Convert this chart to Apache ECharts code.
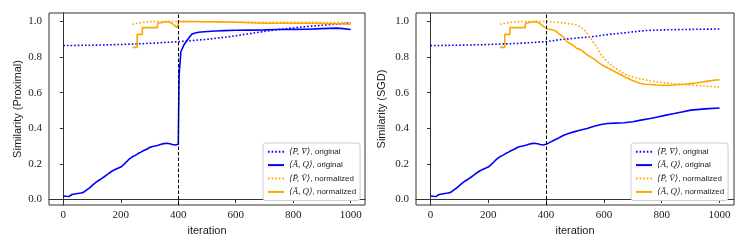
<!DOCTYPE html>
<html>
<head>
<meta charset="utf-8">
<script src="https://cdn.jsdelivr.net/npm/echarts@6/dist/echarts.min.js"></script>
<style>
html,body{margin:0;padding:0;background:#fff;}
#chart{width:747px;height:249px;}
</style>
</head>
<body>
<div id="chart"></div>
<script>
// ---------- data ----------
const xTicks = [0, 200, 400, 600, 800, 1000];
const yTicks = [0, 0.2, 0.4, 0.6, 0.8, 1.0];
const panelTitles = ['Similarity (Proximal)', 'Similarity (SGD)'];
const legendNames = ['pv_orig', 'aq_orig', 'pv_norm', 'aq_norm'];
const switchIter = 400;

// <A,Q> original, shared part (0..400)
const aqOrigPreIt  = [0,10,20,25,30,40,50,60,70,80,90,100,110,120,130,140,150,160,170,180,190,200,210,220,230,240,250,260,270,280,290,300,310,320,330,340,350,360,370,380,390,400];
const aqOrigPreVal = [0.020,0.018,0.017,0.020,0.028,0.031,0.034,0.036,0.040,0.052,0.064,0.078,0.092,0.104,0.114,0.125,0.137,0.149,0.160,0.168,0.175,0.182,0.196,0.212,0.228,0.240,0.248,0.258,0.266,0.275,0.282,0.292,0.298,0.301,0.305,0.310,0.314,0.316,0.313,0.309,0.306,0.310];
// Proximal after 400
const aqOrigProxIt  = [401,403,409,420,431,440,448,460,471,490,529,560,600,650,700,750,800,850,900,950,975,1000];
const aqOrigProxVal = [0.450,0.700,0.830,0.870,0.895,0.915,0.930,0.936,0.940,0.943,0.947,0.949,0.951,0.952,0.953,0.955,0.956,0.957,0.960,0.963,0.960,0.955];
// SGD after 400
const aqOrigSgdIt  = [410,427,440,461,480,496,520,542,566,590,612,640,670,700,728,760,786,815,843,870,901,950,1000];
const aqOrigSgdVal = [0.318,0.333,0.343,0.361,0.372,0.380,0.390,0.399,0.412,0.421,0.427,0.429,0.431,0.437,0.446,0.455,0.464,0.474,0.483,0.492,0.502,0.509,0.514];

// <P,V> original
const pvOrigProxIt  = [0,100,200,300,400,500,575,640,690,754,820,900,1000];
const pvOrigProxVal = [0.865,0.867,0.871,0.877,0.887,0.900,0.914,0.930,0.942,0.956,0.968,0.979,0.992];
const pvOrigSgdIt   = [0,100,200,300,400,446,500,560,620,680,740,800,900,1000];
const pvOrigSgdVal  = [0.865,0.867,0.871,0.877,0.887,0.898,0.906,0.915,0.928,0.938,0.949,0.953,0.956,0.958];

// <P,V> normalized
const pvNormPreIt  = [240,250,260,270,280,290,300,320,400];
const pvNormPreVal = [0.985,0.988,0.991,0.994,0.996,0.998,0.999,1.000,1.000];
const pvNormProxIt  = [450,500,600,700,800,900,1000];
const pvNormProxVal = [0.999,0.998,0.997,0.996,0.996,0.995,0.995];
const pvNormSgdIt  = [427,446,473,496,505,519,530,542,555,566,578,589,600,612,626,640,655,672,700,728,760,790,840,900,950,1000];
const pvNormSgdVal = [0.996,0.995,0.989,0.984,0.980,0.970,0.955,0.933,0.905,0.878,0.850,0.815,0.795,0.775,0.755,0.738,0.722,0.704,0.688,0.677,0.667,0.660,0.650,0.643,0.637,0.632];

// <A,Q> normalized
const aqNormPreIt  = [240,257,257,275,275,328,328,332,332,365,372,380,388,396,400];
const aqNormPreVal = [0.855,0.855,0.928,0.928,0.966,0.966,0.990,0.990,1.000,1.000,0.995,0.987,0.977,0.966,0.965];
const aqNormProxIt  = [401,450,500,550,600,650,700,750,800,850,900,950,1000];
const aqNormProxVal = [1.000,1.000,0.999,0.998,0.996,0.993,0.990,0.990,0.990,0.990,0.989,0.988,0.985];
const aqNormSgdIt  = [405,415,425,435,445,455,465,470,475,485,495,505,515,525,540,555,570,585,600,615,630,645,660,677,695,710,725,740,760,780,800,820,840,860,880,900,920,940,960,980,1000];
const aqNormSgdVal = [0.958,0.955,0.952,0.945,0.930,0.920,0.905,0.890,0.895,0.875,0.865,0.850,0.845,0.835,0.815,0.800,0.785,0.765,0.750,0.738,0.725,0.712,0.700,0.685,0.672,0.662,0.653,0.648,0.646,0.643,0.642,0.641,0.643,0.646,0.648,0.651,0.655,0.660,0.665,0.670,0.673];

// ---------- build ----------
function zip(it, v) { return it.map((x, i) => [x, v[i]]); }
const panels = [
  {
    pvOrig: zip(pvOrigProxIt, pvOrigProxVal),
    aqOrig: zip(aqOrigPreIt, aqOrigPreVal).concat(zip(aqOrigProxIt, aqOrigProxVal)),
    pvNorm: zip(pvNormPreIt, pvNormPreVal).concat(zip(pvNormProxIt, pvNormProxVal)),
    aqNorm: zip(aqNormPreIt, aqNormPreVal).concat(zip(aqNormProxIt, aqNormProxVal))
  },
  {
    pvOrig: zip(pvOrigSgdIt, pvOrigSgdVal),
    aqOrig: zip(aqOrigPreIt, aqOrigPreVal).concat(zip(aqOrigSgdIt, aqOrigSgdVal)),
    pvNorm: zip(pvNormPreIt, pvNormPreVal).concat(zip(pvNormSgdIt, pvNormSgdVal)),
    aqNorm: zip(aqNormPreIt, aqNormPreVal).concat(zip(aqNormSgdIt, aqNormSgdVal))
  }
];

const BLUE = '#0000ff', ORANGE = '#ffa500', FRAME = '#333333', TXT = '#1a1a1a';
const DOT = [1.6, 2.0];
const LW = 1.6;
const serif = 'Liberation Serif, DejaVu Serif, serif';
const sans = 'Liberation Sans, Arial, sans-serif';

const grids = [
  { left: 49, top: 13, width: 316, height: 192 },
  { left: 416, top: 13, width: 318, height: 192 }
];
const nameGaps = [26, 29];

const legendLabels = {
  pv_orig: ['\u27E8P\u0304, V\u0304\u27E9', ', original'],
  aq_orig: ['\u27E8A\u0304, Q\u27E9', ', original'],
  pv_norm: ['\u27E8P\u0304, V\u0304\u27E9', ', normalized'],
  aq_norm: ['\u27E8A\u0304, Q\u27E9', ', normalized']
};

const option = {
  animation: false,
  backgroundColor: '#fff',
  grid: grids.map(g => Object.assign({ show: true, borderColor: FRAME, borderWidth: 1, backgroundColor: 'transparent' }, g)),
  xAxis: grids.map((g, i) => ({
    type: 'value', gridIndex: i, min: -50, max: 1050,
    name: 'iteration', nameLocation: 'middle', nameGap: 19,
    nameTextStyle: { fontFamily: sans, fontSize: 11, color: TXT },
    axisLine: { show: true, lineStyle: { color: FRAME, width: 1 } },
    axisTick: { show: true, customValues: xTicks, length: 3.5, inside: false, lineStyle: { color: FRAME } },
    axisLabel: { customValues: xTicks, fontFamily: serif, fontSize: 11, color: TXT, margin: 5,
      formatter: v => String(Math.round(v)) },
    splitLine: { show: false }
  })),
  yAxis: grids.map((g, i) => ({
    type: 'value', gridIndex: i, min: -0.031, max: 1.048,
    name: panelTitles[i], nameLocation: 'middle', nameGap: nameGaps[i],
    nameTextStyle: { fontFamily: sans, fontSize: 11, color: TXT },
    axisLine: { show: true, lineStyle: { color: FRAME, width: 1 } },
    axisTick: { show: true, customValues: yTicks, length: 3.5, inside: false, lineStyle: { color: FRAME } },
    axisLabel: { customValues: yTicks, fontFamily: serif, fontSize: 11, color: TXT, margin: 7,
      formatter: v => v.toFixed(1) },
    splitLine: { show: false }
  })),
  legend: [263, 631].map(l => ({
    left: l, top: 143, orient: 'vertical',
    data: legendNames,
    itemWidth: 16, itemHeight: 10, itemGap: 3.4,
    padding: [3.7, 4, 3.7, 4],
    backgroundColor: '#fff', borderColor: '#cccccc', borderWidth: 1, borderRadius: 3,
    selectedMode: false,
    itemStyle: { opacity: 0 },
    formatter: n => '{m|' + legendLabels[n][0] + '}{t|' + legendLabels[n][1] + '}',
    textStyle: {
      color: TXT, lineHeight: 10,
      rich: {
        m: { fontFamily: serif, fontStyle: 'italic', fontSize: 9, color: TXT },
        t: { fontFamily: sans, fontSize: 8, color: TXT }
      }
    }
  })),
  series: []
};

panels.forEach((p, i) => {
  const common = { type: 'line', xAxisIndex: i, yAxisIndex: i, symbol: 'none', smooth: false, clip: true };
  option.series.push(Object.assign({}, common, {
    name: 'pv_orig', data: p.pvOrig, z: 3,
    lineStyle: { color: BLUE, width: LW, type: DOT }, itemStyle: { color: BLUE },
    markLine: {
      silent: true, symbol: 'none', label: { show: false },
      lineStyle: { color: '#000', width: 1, type: [3.5, 2] },
      data: [{ xAxis: switchIter }]
    }
  }));
  option.series.push(Object.assign({}, common, {
    name: 'aq_orig', data: p.aqOrig, z: 3,
    lineStyle: { color: BLUE, width: LW, type: 'solid' }, itemStyle: { color: BLUE }
  }));
  option.series.push(Object.assign({}, common, {
    name: 'pv_norm', data: p.pvNorm, z: 4,
    lineStyle: { color: ORANGE, width: LW, type: DOT }, itemStyle: { color: ORANGE }
  }));
  option.series.push(Object.assign({}, common, {
    name: 'aq_norm', data: p.aqNorm, z: 4,
    lineStyle: { color: ORANGE, width: LW, type: 'solid' }, itemStyle: { color: ORANGE }
  }));
});

const chart = echarts.init(document.getElementById('chart'), null, { renderer: 'canvas' });
chart.setOption(option);
</script>
</body>
</html>
